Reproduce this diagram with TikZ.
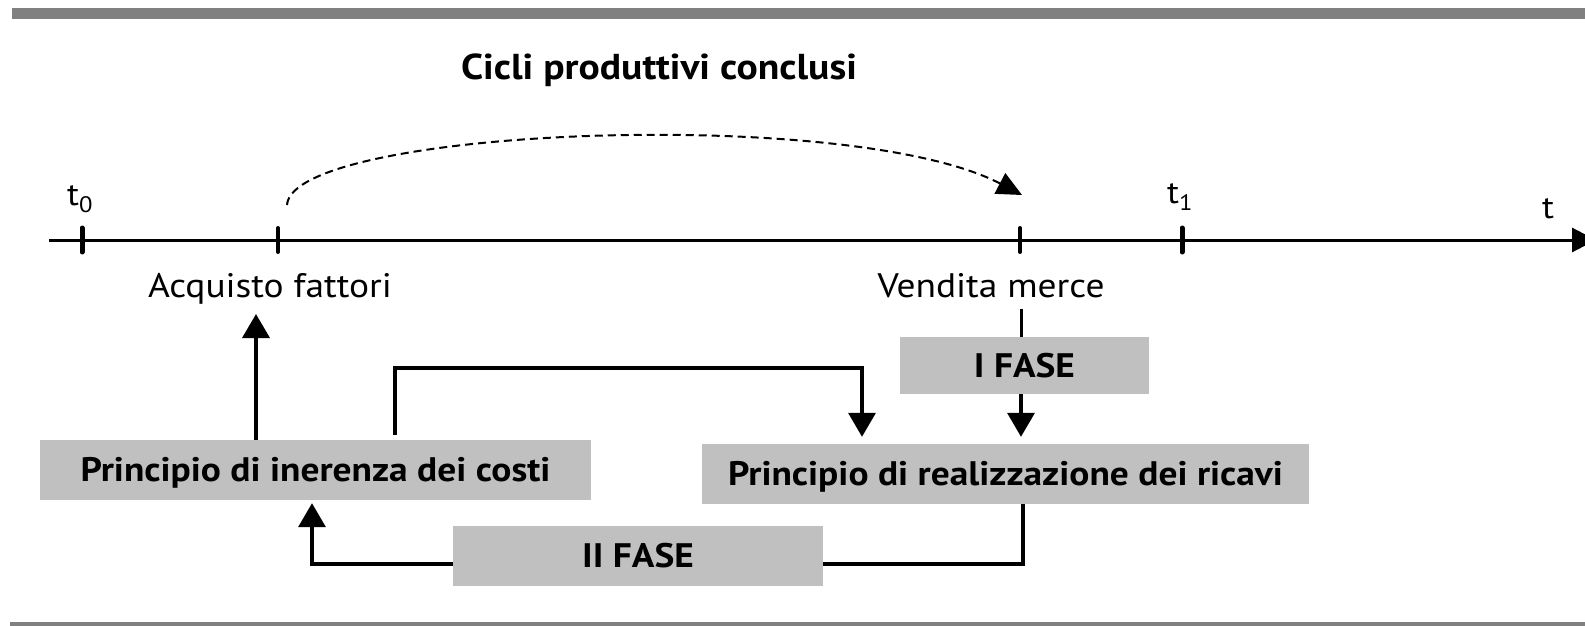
\documentclass[tikz,border=0pt]{standalone}
\usepackage{fontspec}
\setmainfont{PT Sans}[FakeStretch=1.1]
\usetikzlibrary{arrows.meta}
\definecolor{boxgray}{RGB}{192,192,192}
\definecolor{bargray}{RGB}{128,128,128}
\begin{document}
\begin{tikzpicture}[x=1pt,y=-1pt,
  txt/.style={inner sep=0pt, anchor=base, font=\fontsize{34}{40}\selectfont},
  box/.style={fill=boxgray, inner sep=0pt, text height=23pt, text depth=0pt,
    font=\fontsize{34}{40}\selectfont\bfseries},
  conn/.style={line width=3.5pt},
  arr/.style={conn, -{Triangle[length=24pt,width=27pt]}},
  tickmark/.style={line width=5pt, line cap=round},
  thintick/.style={line width=4pt, line cap=round}]
\useasboundingbox (0,0) rectangle (1585,626);
% bars
\fill[bargray] (12,8) rectangle (1585,19);
\fill[bargray] (10,622) rectangle (1585,626);
% title
\node[txt, font=\fontsize{36}{42}\selectfont\bfseries] (title) at (659,79) {Cicli produttivi conclusi};
% axis
\coordinate (ax0) at (49,240);
\coordinate (ax1) at (1596,240);
\draw[line width=3pt, -{Triangle[length=24pt,width=24pt]}] (ax0) -- (ax1);
\coordinate (p0) at (82,240);
\coordinate (pa) at (278,240);
\coordinate (pv) at (1020,240);
\coordinate (p1) at (1182,240);
\draw[tickmark] ([yshift=-12pt]p0) -- ([yshift=12pt]p0);
\draw[thintick] ([yshift=-12pt]pa) -- ([yshift=12pt]pa);
\draw[thintick] ([yshift=-12pt]pv) -- ([yshift=12pt]pv);
\draw[tickmark] ([yshift=-12pt]p1) -- ([yshift=12pt]p1);
% axis labels
\node[txt, font=\fontsize{32}{38}\selectfont] (t0) at (80,205) {t\textsubscript{0}};
\node[txt, font=\fontsize{32}{38}\selectfont] (t1) at (1180,203) {t\textsubscript{1}};
\node[txt, font=\fontsize{32}{38}\selectfont] (tt) at (1548,218) {t};
\node[txt] (acq) at (270,297) {Acquisto fattori};
\node[txt] (ven) at (991,297) {Vendita merce};
% dashed arc
\coordinate (ds) at (287,205);
\coordinate (de) at (1022,195);
\draw[line width=2pt, dash pattern=on 8pt off 5pt, -{Triangle[length=25pt,width=23pt]}]
  (ds) .. controls (292,128) and (850,105) .. (de);
% boxes
\node[box, minimum width=551pt, minimum height=60pt] (iner) at (315.5,470) {Principio di inerenza dei costi};
\node[box, minimum width=607pt, minimum height=60pt] (real) at (1005.5,474) {Principio di realizzazione dei ricavi};
\node[box, minimum width=249pt, minimum height=57pt] (fase1) at (1024.5,365.5) {I FASE};
\node[box, minimum width=370pt, minimum height=60pt] (fase2) at (638,556) {II FASE};
% connectors
\coordinate (vtop) at (1021,309);
\draw[line width=3pt] (vtop) -- (vtop |- fase1.north);
\draw[arr, shorten >=7pt] (vtop |- fase1.south) -- (vtop |- real.north);
\coordinate (acqtip) at (256,314);
\draw[arr] (acqtip |- iner.north) -- (acqtip);
\coordinate (k1) at (395,368);
\coordinate (k2) at (862,368);
\draw[arr, shorten <=5pt, shorten >=7pt] (k1 |- iner.north) -- (k1) -- (k2) -- (k2 |- real.north);
\coordinate (k3) at (1023,564);
\draw[conn] (k3 |- real.south) -- (k3) -- (k3 -| fase2.east);
\coordinate (k4) at (312,564);
\draw[arr, shorten >=3pt] (k4 -| fase2.west) -- (k4) -- (k4 |- iner.south);
\end{tikzpicture}
\end{document}
